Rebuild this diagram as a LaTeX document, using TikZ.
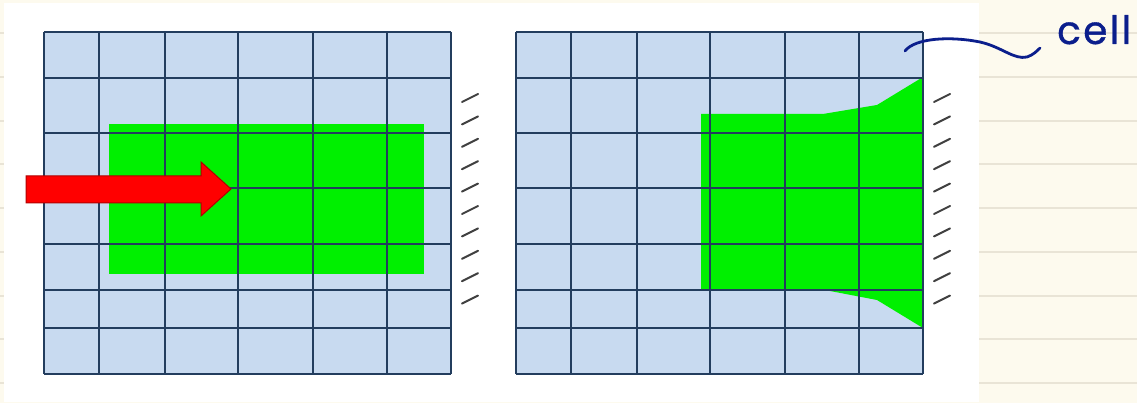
\documentclass[tikz,border=0pt]{standalone}
\usepackage{fontspec}
\newfontfamily\handfont{Poppins}
\usetikzlibrary{arrows.meta, calc}
\definecolor{paper}{HTML}{FDFAEE}
\definecolor{ruleline}{HTML}{E9E4D6}
\definecolor{cellblue}{HTML}{C8DAF0}
\definecolor{gridnavy}{HTML}{233D5E}
\definecolor{flowgreen}{HTML}{00F000}
\definecolor{pushred}{HTML}{FF0000}
\definecolor{inkblue}{HTML}{0B1E8C}
\tikzset{
    gridline/.style={draw=gridnavy, line width=2.2pt},
    hatch/.style={draw=black!75, line width=2pt, line cap=round},
    pusharrow/.style={fill=pushred, draw=pushred!70!black, line width=1pt, line join=miter},
    inkline/.style={draw=inkblue, line width=2.8pt, line cap=round},
    cellnote/.style={text=inkblue, font=\handfont\fontsize{39}{42}\selectfont\addfontfeature{LetterSpace=6,FakeBold=0.9}, inner sep=0pt}
}

\begin{document}
\begin{tikzpicture}[x=1pt, y=-1pt]
    \useasboundingbox (0,0) rectangle (1137,403);
    % notebook page
    \fill[paper] (0,0) rectangle (1137,403);
    \foreach \y in {33,77,121,164,208,252,296,339,383}
        \draw[ruleline, line width=1.2pt] (0,\y) -- (1137,\y);
    \fill[white] (4,3) rectangle (979,402);

    % two meshes, before and after
    \foreach \dx in {0,472} {
        \begin{scope}[xshift=\dx]
            \fill[cellblue] (44,32) rectangle (451,374);
            \ifnum\dx=0
                \fill[flowgreen] (109,124) rectangle (424,274);
            \else
                \fill[flowgreen] (229,114) -- (351,114) -- (405,105) -- (451,77)
                    -- (451,328) -- (405,300) -- (358,291) -- (229,289) -- cycle;
            \fi
            \foreach \x in {44,99,165,238,313,387,451}
                \draw[gridline] (\x,32) -- (\x,374);
            \foreach \y in {32,78,133,188,244,290,328,374}
                \draw[gridline] (44,\y) -- (451,\y);
            % wall hatching
            \foreach \k in {0,...,9}
                \draw[hatch] (462,102+22.4*\k) -- (478,94+22.4*\k);
        \end{scope}
    }

    % incoming flow
    \draw[pusharrow] (26,176) -- (201,176) -- (201,162) -- (231,189)
        -- (201,216) -- (201,203) -- (26,203) -- cycle;

    % annotation
    \node[cellnote, anchor=base west] (cell) at (1057,44) {cell};
    \coordinate (pick) at (905,51);
    \draw[inkline] (pick) .. controls (915,38) and (950,36) .. (980,42)
        .. controls (1002,47) and (1014,60) .. (1027,57)
        .. controls (1033,55) and (1037,51) .. ($(cell.base west)+(-17,4)$);
\end{tikzpicture}
\end{document}
